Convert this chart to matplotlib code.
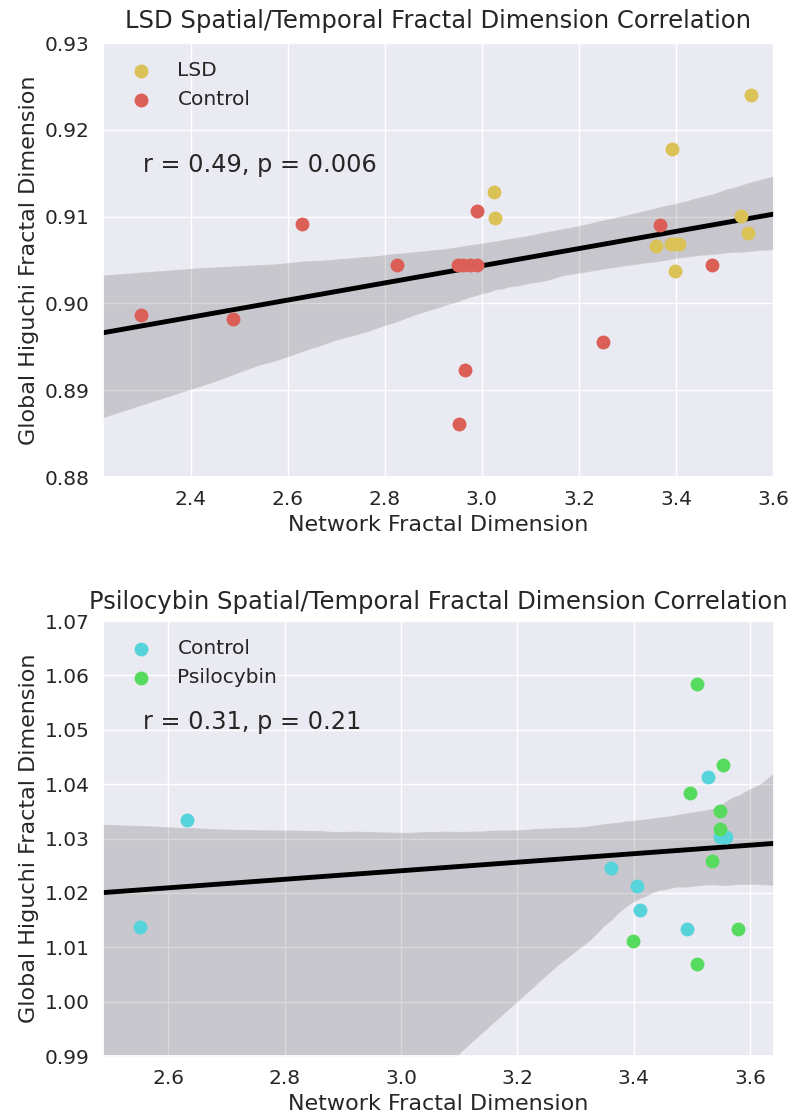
import matplotlib
matplotlib.use('Agg')
import numpy as np
import matplotlib.pyplot as plt
import seaborn as sns

sns.set_theme(style='darkgrid')
plt.rcParams['font.family'] = ['DejaVu Sans']

# LSD study
lsd_x = [3.024, 3.026, 3.391, 3.555, 3.358, 3.389, 3.399, 3.406, 3.398, 3.535, 3.548]
lsd_y = [0.9128, 0.9098, 0.9178, 0.9240, 0.9066, 0.9069, 0.9069, 0.9069, 0.9037, 0.9101, 0.9081]
lsd_ctrl_x = [2.298, 2.488, 2.629, 2.824, 2.950, 2.962, 2.975, 2.989,
              2.989, 2.965, 2.952, 3.250, 3.367, 3.475]
lsd_ctrl_y = [0.8987, 0.8982, 0.9092, 0.9044, 0.9044, 0.9044, 0.9044, 0.9044,
              0.9106, 0.8923, 0.8861, 0.8955, 0.9090, 0.9044]

# Psilocybin study
psi_ctrl_x = [2.551, 2.633, 3.528, 3.549, 3.558, 3.361, 3.406, 3.410, 3.492]
psi_ctrl_y = [1.0138, 1.0334, 1.0413, 1.0303, 1.0303, 1.0246, 1.0212, 1.0169, 1.0134]
psi_x = [3.509, 3.554, 3.496, 3.548, 3.548, 3.535, 3.580, 3.399, 3.509]
psi_y = [1.0584, 1.0436, 1.0383, 1.0351, 1.0318, 1.0259, 1.0133, 1.0111, 1.0069]

c_lsd = '#dbc257'
c_red = '#db5f57'
c_cyan = '#57d3db'
c_green = '#57db5f'

fig = plt.figure(figsize=(7.94, 11.2), dpi=100)
ax1 = fig.add_axes([0.1297, 0.5741, 0.8451, 0.3875])
ax2 = fig.add_axes([0.1297, 0.0571, 0.8451, 0.3884])


def panel(ax, groups, xlim, ylim, yticks, title, note, note_y, pad):
    ax.set_xlim(*xlim)
    ax.set_ylim(*ylim)
    all_x = np.concatenate([np.array(g[0]) for g in groups])
    all_y = np.concatenate([np.array(g[1]) for g in groups])
    for gx, gy, col, lab in groups:
        ax.scatter(gx, gy, s=100, color=col, label=lab, linewidths=0, zorder=3)
    # regression over both groups, band from seaborn's bootstrap (fixed seed)
    sns.regplot(x=all_x, y=all_y, ax=ax, scatter=False, truncate=False,
                color='black', seed=0, line_kws={'lw': 3.5})
    ax.set_xlim(*xlim)
    ax.set_ylim(*ylim)
    ax.set_yticks(yticks)
    ax.set_yticklabels(['%.2f' % v for v in yticks])
    ax.tick_params(labelsize=14.5)
    ax.set_xlabel('Network Fractal Dimension', fontsize=16)
    ax.set_ylabel('Global Higuchi Fractal Dimension', fontsize=16)
    ax.set_title(title, fontsize=17.5, pad=pad)
    ax.text(0.06, note_y, note, transform=ax.transAxes, fontsize=17.3,
            va='center', ha='left', color='#262626')
    ax.legend(loc='upper left', frameon=False, fontsize=14.5)


panel(ax1, [(lsd_x, lsd_y, c_lsd, 'LSD'), (lsd_ctrl_x, lsd_ctrl_y, c_red, 'Control')],
      (2.219, 3.602), (0.88, 0.93), [0.88, 0.89, 0.90, 0.91, 0.92, 0.93],
      'LSD Spatial/Temporal Fractal Dimension Correlation',
      'r = 0.49, p = 0.006', 0.719, 11)
ax1.set_xticks([2.4, 2.6, 2.8, 3.0, 3.2, 3.4, 3.6])

panel(ax2, [(psi_ctrl_x, psi_ctrl_y, c_cyan, 'Control'), (psi_x, psi_y, c_green, 'Psilocybin')],
      (2.488, 3.641), (0.99, 1.07), [0.99, 1.00, 1.01, 1.02, 1.03, 1.04, 1.05, 1.06, 1.07],
      'Psilocybin Spatial/Temporal Fractal Dimension Correlation',
      'r = 0.31, p = 0.21', 0.768, 9)
ax2.set_xticks([2.6, 2.8, 3.0, 3.2, 3.4, 3.6])

fig.savefig('out.png', dpi=100)
